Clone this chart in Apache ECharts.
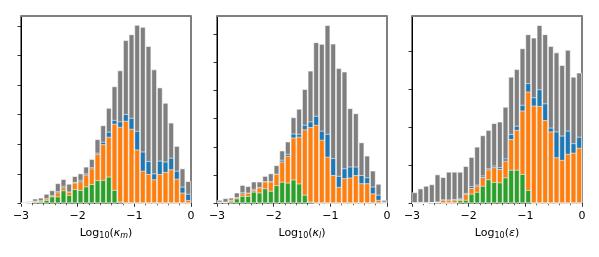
<!DOCTYPE html>
<html>
<head>
<meta charset="utf-8">
<script src="https://cdn.jsdelivr.net/npm/echarts@6/dist/echarts.min.js"></script>
<style>
html,body{margin:0;padding:0;background:#fff;}
#chart{width:599px;height:257px;}
</style>
</head>
<body>
<div id="chart"></div>
<script>
// Bin centres (bins of width 0.1 from -3 to 0)
const binCenters = [-2.95,-2.85,-2.75,-2.65,-2.55,-2.45,-2.35,-2.25,-2.15,-2.05,
                    -1.95,-1.85,-1.75,-1.65,-1.55,-1.45,-1.35,-1.25,-1.15,-1.05,
                    -0.95,-0.85,-0.75,-0.65,-0.55,-0.45,-0.35,-0.25,-0.15,-0.05];

// Panel 1: Log10(kappa_m)
const km_gray   = [0,0.7,1.6,1.9,3.2,4.4,6.8,8.2,6.6,9.2,10.1,12.4,15.0,21.7,26.4,32.3,39.6,45.0,55.2,57.2,60.4,59.7,53.2,45.3,39.2,34.0,27.3,19.4,11.8,7.5];
const km_blue   = [0,0.3,0.8,0.9,1.6,2.6,4.1,5.9,3.9,7.2,7.9,10.1,12.2,17.1,20.8,24.2,28.2,27.7,30.2,28.9,24.5,17.5,14.3,10.1,14.4,14.1,15.4,11.0,5.6,3.2];
const km_orange = [0,0.3,0.8,0.9,1.6,2.6,3.7,5.4,3.9,7.0,7.4,9.7,11.8,16.7,20.0,22.5,26.9,25.9,27.9,25.2,18.2,11.0,9.9,8.1,9.9,10.6,11.5,8.3,3.6,1.1];
const km_green  = [0,0.2,0.5,0.6,1.1,2.3,2.3,4.4,2.8,4.8,4.5,5.7,6.5,7.8,7.9,9.0,4.5,0.6,0,0,0,0,0,0,0,0,0,0,0,0];

// Panel 2: Log10(kappa_l)
const kl_gray   = [1.2,1.8,2.0,3.8,6.5,6.1,7.7,7.7,9.7,10.6,13.5,18.7,21.9,30.5,33.5,40.5,47.0,57.1,56.5,63.2,56.6,47.9,46.7,33.7,31.9,21.6,16.9,11.6,6.9,1.2];
const kl_blue   = [0.5,0.5,1.2,2.1,4.0,3.7,5.1,5.6,7.7,7.7,10.4,15.4,17.5,24.7,24.6,27.8,29.0,31.0,25.7,24.6,16.0,9.7,12.4,13.0,13.0,10.0,9.2,5.9,3.0,0.6];
const kl_orange = [0.5,0.5,1.2,2.1,3.5,3.7,4.7,5.6,7.7,7.7,10.4,14.8,16.8,23.3,23.6,26.2,27.0,27.8,22.5,16.5,10.0,5.8,8.9,9.1,10.0,7.1,7.1,3.5,1.2,0];
const kl_green  = [0.4,0.4,0.7,1.7,2.6,2.6,4.1,3.8,5.3,4.4,6.4,7.6,7.3,8.4,7.0,3.0,0.6,0,0,0,0,0,0,0,0,0,0,0,0,0];

// Panel 3: Log10(epsilon)
const ep_gray   = [2.9,3.9,4.6,5.0,7.6,6.9,8.3,8.3,8.3,9.8,12.2,14.9,17.9,19.3,21.1,21.5,25.4,33.3,35.3,40.8,44.5,43.6,46.9,44.5,41.4,39.7,36.4,40.4,33.3,34.4];
const ep_blue   = [0,0.35,0,0.2,0.4,1.0,1.0,1.1,1.3,2.7,4.5,4.9,7.3,9.2,9.9,9.5,11.8,18.2,20.4,25.9,31.6,27.9,30.0,26.3,19.9,18.9,17.8,19.1,15.8,17.5];
const ep_orange = [0,0,0,0.2,0.4,0.9,0.8,0.9,1.1,2.4,4.0,4.6,6.9,8.9,9.5,9.0,11.2,16.9,19.3,24.4,29.4,25.7,25.6,21.9,18.9,12.1,11.4,13.0,13.3,14.6];
const ep_green  = [0,0,0,0.2,0.2,0,0,0,0.8,0.9,2.5,3.0,4.6,6.3,5.6,5.5,6.8,8.8,8.8,7.7,3.5,0,0,0,0,0,0,0,0,0];

const xTickStep = 1;
const yTickStep = 10;
const yTicks12 = [0,10,20,30,40,50,60];
const yTicks3 = [0,10,20,30,40];

const panels = [
  {left:21, ymax:63.4, yTicks:yTicks12, name:'{n|Log}{s|10}{n|(}{i|κ}{si|m}{n|)}', data:[km_gray,km_blue,km_orange,km_green]},
  {left:217, ymax:66.4, yTicks:yTicks12, name:'{n|Log}{s|10}{n|(}{i|κ}{si|l}{n|)}', data:[kl_gray,kl_blue,kl_orange,kl_green]},
  {left:412, ymax:49.3, yTicks:yTicks3, name:'{n|Log}{s|10}{n|(}{i|ε}{n|)}', data:[ep_gray,ep_blue,ep_orange,ep_green]}
];
const colors = ['#7f7f7f','#1f77b4','#ff7f0e','#2ca02c'];
const FONT = 'DejaVu Sans';

const grids = [], xAxes = [], yAxes = [], series = [];
panels.forEach((p, k) => {
  grids.push({left:p.left, width:170, top:16, height:187.3, show:true, borderColor:'#000', borderWidth:1, backgroundColor:'transparent'});
  xAxes.push({
    type:'value', gridIndex:k, min:-3, max:0, interval:xTickStep, position:'bottom',
    name:p.name, nameLocation:'middle', nameGap:23,
    nameTextStyle:{fontFamily:FONT, fontSize:11, color:'#000',
      rich:{
        n:{fontFamily:FONT, fontSize:11, lineHeight:14, color:'#000'},
        i:{fontFamily:FONT, fontSize:11, lineHeight:14, fontStyle:'italic', color:'#000'},
        s:{fontFamily:FONT, fontSize:8, lineHeight:8, verticalAlign:'bottom', color:'#000'},
        si:{fontFamily:FONT, fontSize:8, lineHeight:8, verticalAlign:'bottom', fontStyle:'italic', color:'#000'}
      }},
    axisLine:{show:true, onZero:false, lineStyle:{color:'#000', width:1}},
    axisTick:{show:true, inside:false, length:3.5, lineStyle:{color:'#000', width:0.8}},
    minorTick:{show:true, splitNumber:5, length:2, lineStyle:{color:'#000', width:0.6}},
    axisLabel:{show:true, margin:7, fontFamily:FONT, fontSize:11, color:'#000',
      formatter:(v)=> v < 0 ? '\u2212' + Math.abs(v) : String(v)},
    splitLine:{show:false}, minorSplitLine:{show:false}
  });
  // top spine (gray)
  xAxes.push({
    type:'value', gridIndex:k, min:-3, max:0, position:'top',
    axisLine:{show:true, onZero:false, lineStyle:{color:'#808080', width:2}},
    axisTick:{show:false}, axisLabel:{show:false}, splitLine:{show:false}
  });
  yAxes.push({
    type:'value', gridIndex:k, min:0, max:p.ymax, interval:yTickStep,
    axisLine:{show:true, onZero:false, lineStyle:{color:'#000', width:1}},
    axisTick:{show:true, inside:false, length:3.5, lineStyle:{color:'#000', width:0.8}, customValues:p.yTicks},
    axisLabel:{show:true, customValues:p.yTicks, formatter:()=>'', color:'transparent'},
    splitLine:{show:false}
  });
  p.data.forEach((vals, s) => {
    series.push({
      type:'bar', xAxisIndex:k*2, yAxisIndex:k,
      data: binCenters.map((c, j) => [c, vals[j]]),
      barWidth:5.67, barGap:'-100%',
      itemStyle:{color:colors[s], borderColor:'rgba(255,255,255,0.75)', borderWidth:0.8},
      z:2+s, silent:true
    });
  });
});

const chart = echarts.init(document.getElementById('chart'), null, {renderer:'canvas'});
chart.setOption({
  animation:false,
  backgroundColor:'#fff',
  grid:grids, xAxis:xAxes, yAxis:yAxes, series:series
});
</script>
</body>
</html>
